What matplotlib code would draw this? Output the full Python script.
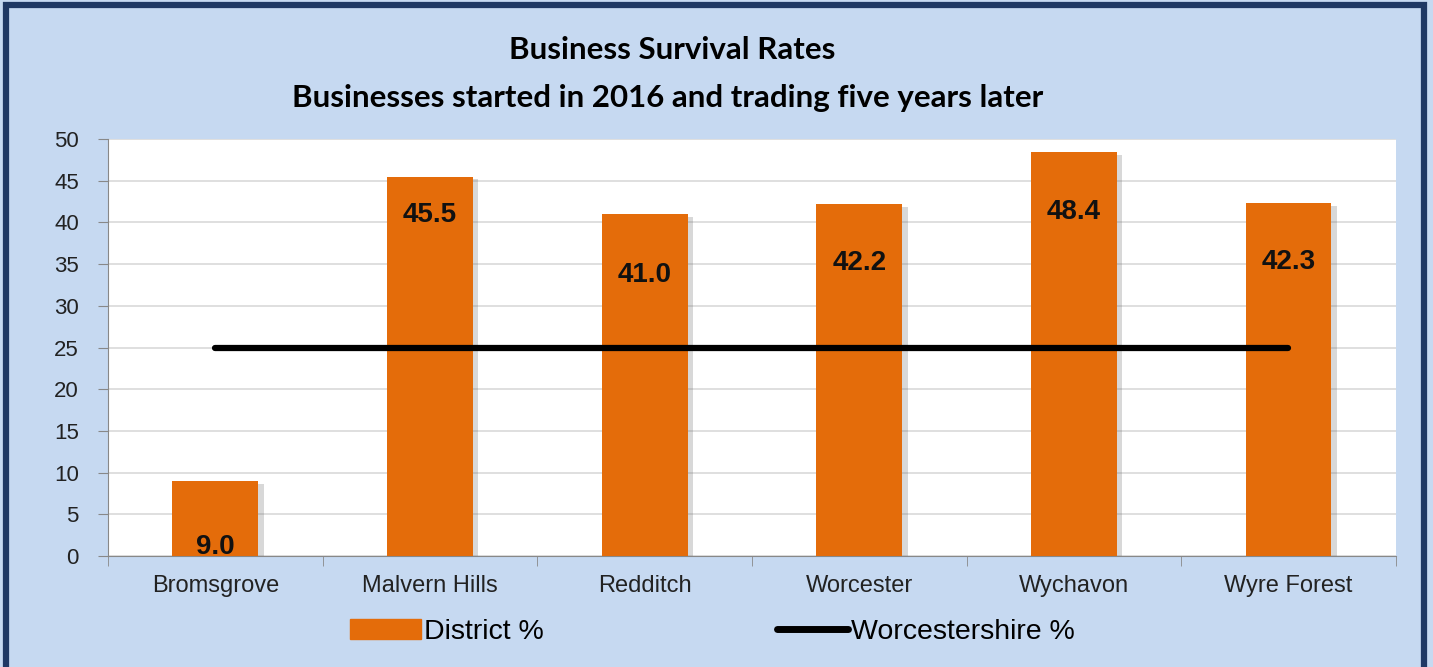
import matplotlib
matplotlib.use("Agg")
import matplotlib.pyplot as plt
import matplotlib.patheffects as pe
from matplotlib.patches import Rectangle
from matplotlib.lines import Line2D
import numpy as np

# Data
districts = ['Bromsgrove', 'Malvern Hills', 'Redditch', 'Worcester', 'Wychavon', 'Wyre Forest']
district_pct = [9.0, 45.5, 41.0, 42.2, 48.4, 42.3]
county_pct = [25, 25, 25, 25, 25, 25]

# how far below the bar top each value label sits (data units)
label_drop = [7.9, 4.6, 7.3, 7.1, 7.2, 7.1]

bg = '#c6d9f1'
orange = '#e46c0a'
plt.rcParams['font.family'] = ['Liberation Sans', 'DejaVu Sans']

fig = plt.figure(figsize=(14.33, 6.67), dpi=100)
fig.patch.set_facecolor(bg)

# dark frame around the chart
fig.patches.append(Rectangle((0.004, -0.05), 0.990, 1.043, transform=fig.transFigure,
                             fill=False, edgecolor='#1f3864', linewidth=4.5))

ax = fig.add_axes([0.0754, 0.1664, 0.8986, 0.6252])
ax.set_facecolor('white')

x = np.arange(len(districts))
bars = ax.bar(x, district_pct, width=0.4, color=orange, zorder=3,
              path_effects=[pe.SimplePatchShadow(offset=(4, -2), shadow_rgbFace='#666666', alpha=0.25),
                            pe.Normal()])
ax.plot(x, county_pct, color='black', linewidth=4.5, solid_capstyle='round', zorder=4)

for xi, v, d in zip(x, district_pct, label_drop):
    ax.text(xi, v - d, f'{v:.1f}', ha='center', va='center', fontsize=20,
            fontweight='bold', color='#111111', zorder=5)

ax.set_xlim(-0.5, len(districts) - 0.5)
ax.set_ylim(0, 50)
ax.set_yticks(range(0, 51, 5))
ax.yaxis.grid(True, color='#d9d9d9', linewidth=1.2, zorder=0)
ax.set_axisbelow(True)

ax.set_xticks(x)
ax.set_xticklabels(districts, fontsize=17, color='#222222')
ax.set_xticks(np.arange(-0.5, len(districts)), minor=True)
ax.tick_params(axis='x', which='major', length=0, pad=14)
ax.tick_params(axis='x', which='minor', length=7, color='#888888', direction='out')
ax.tick_params(axis='y', labelsize=16, length=7, color='#888888', labelcolor='#222222', pad=14)

for s in ['top', 'right']:
    ax.spines[s].set_visible(False)
ax.spines['left'].set_color('#888888')
ax.spines['bottom'].set_color('#888888')

fig.text(0.469, 0.925, 'Business Survival Rates', ha='center', va='center',
         fontsize=22.5, fontweight='bold', family=['Lato', 'DejaVu Sans'])
fig.text(0.466, 0.853, 'Businesses started in 2016 and trading five years later', ha='center',
         va='center', fontsize=22.5, fontweight='bold', family=['Lato', 'DejaVu Sans'])

handles = [Rectangle((0, 0), 1, 1, color=orange),
           Line2D([0], [0], color='black', linewidth=5, solid_capstyle='round')]
leg = fig.legend(handles, ['District %', 'Worcestershire %'], loc='center',
                 bbox_to_anchor=(0.497, 0.052), ncol=2, frameon=False, fontsize=20.5,
                 handlelength=2.5, handletextpad=0.1, columnspacing=8.2)

fig.savefig('out.png', dpi=100, facecolor=bg)
